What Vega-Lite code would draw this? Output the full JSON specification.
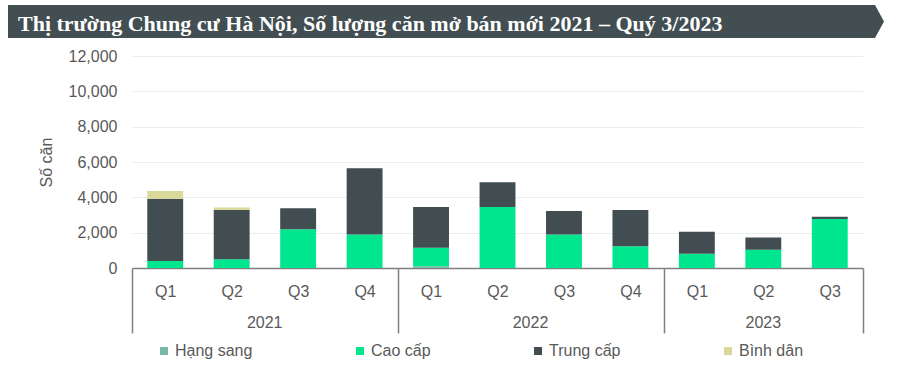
{
  "$schema": "https://vega.github.io/schema/vega-lite/v6.json",
  "width": 731,
  "height": 212,
  "padding": {"left": 8, "top": 5, "right": 10, "bottom": 0},
  "background": "white",
  "config": {
    "font": "Liberation Sans",
    "view": {"stroke": null}
  },
  "title": {
    "text": "Thị trường Chung cư Hà Nội, Số lượng căn mở bán mới 2021 – Quý 3/2023",
    "anchor": "start",
    "frame": "bounds",
    "font": "Liberation Serif",
    "fontSize": 22,
    "fontWeight": "bold",
    "color": "#ffffff",
    "offset": -31,
    "dx": 10
  },
  "datasets": {
    "units": [
      {"period": "2021-Q1", "segment": "Cao cấp", "tier": 2, "value": 400},
      {"period": "2021-Q1", "segment": "Trung cấp", "tier": 3, "value": 3520},
      {"period": "2021-Q1", "segment": "Bình dân", "tier": 4, "value": 440},
      {"period": "2021-Q2", "segment": "Cao cấp", "tier": 2, "value": 500},
      {"period": "2021-Q2", "segment": "Trung cấp", "tier": 3, "value": 2780},
      {"period": "2021-Q2", "segment": "Bình dân", "tier": 4, "value": 150},
      {"period": "2021-Q3", "segment": "Cao cấp", "tier": 2, "value": 2200},
      {"period": "2021-Q3", "segment": "Trung cấp", "tier": 3, "value": 1180},
      {"period": "2021-Q4", "segment": "Cao cấp", "tier": 2, "value": 1900},
      {"period": "2021-Q4", "segment": "Trung cấp", "tier": 3, "value": 3750},
      {"period": "2022-Q1", "segment": "Hạng sang", "tier": 1, "value": 100},
      {"period": "2022-Q1", "segment": "Cao cấp", "tier": 2, "value": 1050},
      {"period": "2022-Q1", "segment": "Trung cấp", "tier": 3, "value": 2300},
      {"period": "2022-Q2", "segment": "Cao cấp", "tier": 2, "value": 3450},
      {"period": "2022-Q2", "segment": "Trung cấp", "tier": 3, "value": 1400},
      {"period": "2022-Q3", "segment": "Cao cấp", "tier": 2, "value": 1900},
      {"period": "2022-Q3", "segment": "Trung cấp", "tier": 3, "value": 1330},
      {"period": "2022-Q4", "segment": "Cao cấp", "tier": 2, "value": 1230},
      {"period": "2022-Q4", "segment": "Trung cấp", "tier": 3, "value": 2050},
      {"period": "2023-Q1", "segment": "Cao cấp", "tier": 2, "value": 810},
      {"period": "2023-Q1", "segment": "Trung cấp", "tier": 3, "value": 1240},
      {"period": "2023-Q2", "segment": "Cao cấp", "tier": 2, "value": 1040},
      {"period": "2023-Q2", "segment": "Trung cấp", "tier": 3, "value": 680},
      {"period": "2023-Q3", "segment": "Cao cấp", "tier": 2, "value": 2770},
      {"period": "2023-Q3", "segment": "Trung cấp", "tier": 3, "value": 130}
    ],
    "banner": [{"banner": "title"}]
  },
  "resolve": {"axis": {"x": "independent"}},
  "layer": [
    {
      "data": {"name": "banner"},
      "mark": {
        "type": "point",
        "shape": "M-0.979,-0.314L0.755,-0.314L0.773,-0.281L0.755,-0.248L-0.979,-0.248Z",
        "size": 1000000,
        "filled": true,
        "fill": "#424e51",
        "opacity": 1,
        "strokeWidth": 0
      },
      "encoding": {}
    },
    {
      "data": {"name": "units"},
      "mark": {"type": "bar", "width": {"band": 0.54}},
      "encoding": {
        "x": {
          "field": "period",
          "type": "nominal",
          "scale": {"paddingInner": 0, "paddingOuter": 0},
          "axis": {
            "orient": "bottom",
            "title": null,
            "labelExpr": "split(datum.value, '-')[1]",
            "labelAngle": 0,
            "labelFontSize": 16,
            "labelColor": "#595959",
            "labelPadding": -50,
            "domainColor": "#7f7f7f",
            "domainWidth": 1.5,
            "tickBand": "extent",
            "tickSize": 65,
            "tickWidth": 1.5,
            "tickColor": {"condition": {"test": "!datum.value || datum.extra || datum.value == '2021-Q4' || datum.value == '2022-Q4' || datum.value == '2023-Q3'", "value": "#7f7f7f"}, "value": "transparent"}
          }
        },
        "y": {
          "field": "value",
          "type": "quantitative",
          "aggregate": "sum",
          "stack": "zero",
          "scale": {"domain": [0, 12000]},
          "axis": {
            "title": "Số căn",
            "titleFontSize": 16,
            "titleFontWeight": "normal",
            "titleColor": "#595959",
            "titlePadding": 14,
            "values": [0, 2000, 4000, 6000, 8000, 10000, 12000],
            "format": ",.0f",
            "labelFontSize": 16,
            "labelColor": "#595959",
            "labelPadding": 15,
            "ticks": false,
            "domain": false,
            "gridColor": "#e8eeee",
            "gridWidth": 1
          }
        },
        "order": {"field": "tier", "type": "quantitative", "sort": "ascending"},
        "color": {
          "field": "segment",
          "type": "nominal",
          "scale": {
            "domain": ["Hạng sang", "Cao cấp", "Trung cấp", "Bình dân"],
            "range": ["#78b8a8", "#00e68e", "#414d50", "#d9d99b"]
          },
          "legend": {
            "title": null,
            "orient": "none",
            "legendX": 24,
            "legendY": 287,
            "direction": "horizontal",
            "symbolType": "square",
            "symbolSize": 64,
            "symbolStrokeWidth": 0,
            "labelFontSize": 16,
            "labelColor": "#595959",
            "labelOffset": 3,
            "columnPadding": 99,
            "padding": 0
          }
        }
      }
    },
    {
      "data": {"name": "units"},
      "mark": {"type": "bar", "opacity": 0},
      "encoding": {
        "x": {
          "field": "period",
          "type": "nominal",
          "axis": {
            "orient": "bottom",
            "title": null,
            "labelExpr": "datum.value == '2021-Q2' || datum.value == '2022-Q2' || datum.value == '2023-Q2' ? split(datum.value, '-')[0] : ''",
            "labelAngle": 0,
            "labelFontSize": 16,
            "labelColor": "#595959",
            "labelPadding": 46,
            "labelOffset": {"condition": {"test": "datum.value == '2023-Q2'", "value": 0}, "value": 33},
            "domain": false,
            "ticks": false,
            "grid": false
          }
        }
      }
    }
  ]
}
